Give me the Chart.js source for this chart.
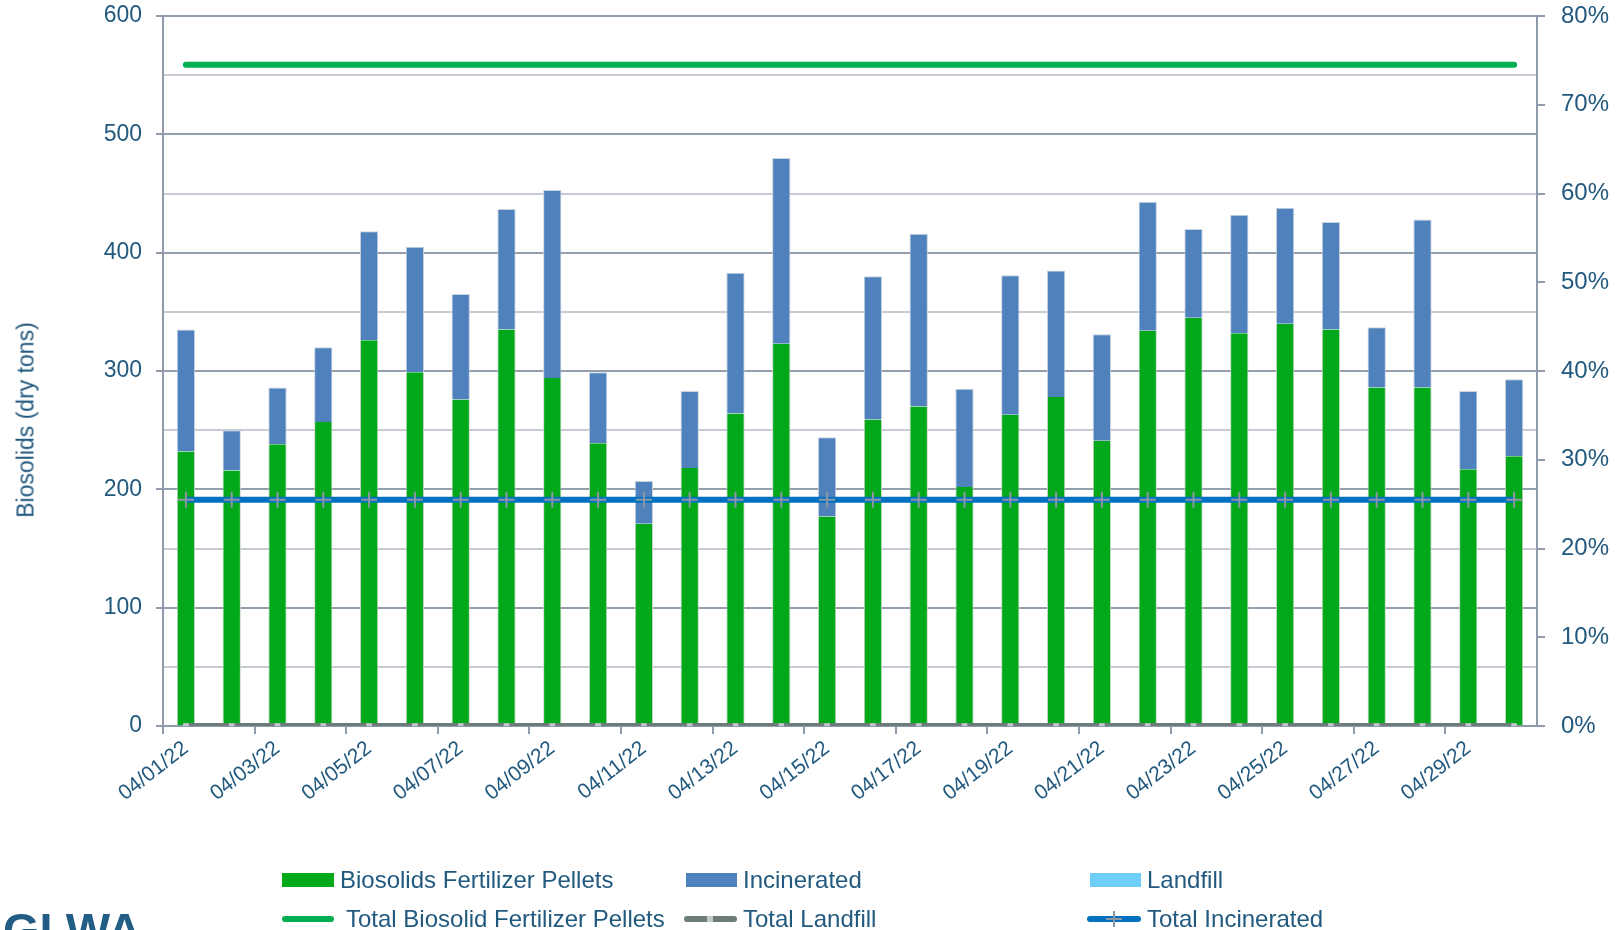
<!DOCTYPE html>
<html>
<head>
<meta charset="utf-8">
<script src="https://cdn.jsdelivr.net/npm/chart.js@4"></script>
<style>
  body { margin: 0; background: #fff; width: 1624px; height: 930px; overflow: hidden; position: relative; font-family: "Liberation Sans", Arial, sans-serif; }
  #chart_box { position: absolute; left: 0; top: 0; width: 1624px; height: 930px; }
  .leg { position: absolute; color: #22597f; font-size: 24px; line-height: 28px; white-space: nowrap; }
  .sw { position: absolute; }
  #y_title { position: absolute; left: 26px; top: 420px; transform: translate(-50%, -50%) rotate(-90deg); color: #22597f; font-size: 23px; white-space: nowrap; }
  #logo { position: absolute; left: 3px; top: 902px; font: bold 47px "Liberation Sans", Arial, sans-serif; color: #215d84; }
</style>
</head>
<body>
<div id="chart_box"><canvas id="biosolids_chart" width="1624" height="930"></canvas></div>
<div id="y_title">Biosolids (dry tons)</div>

<!-- legend -->
<div class="sw" style="left:282px;top:873px;width:52px;height:14px;background:#00a81a"></div>
<div class="leg" style="left:340px;top:866px">Biosolids Fertilizer Pellets</div>
<div class="sw" style="left:686px;top:873px;width:51px;height:14px;background:#4f81bd"></div>
<div class="leg" style="left:743px;top:866px">Incinerated</div>
<div class="sw" style="left:1090px;top:873px;width:51px;height:14px;background:#6dcff6"></div>
<div class="leg" style="left:1147px;top:866px">Landfill</div>

<div class="sw" style="left:282px;top:916px;width:52px;height:6px;border-radius:3px;background:#00b050"></div>
<div class="leg" style="left:346px;top:905px">Total Biosolid Fertilizer Pellets</div>
<div class="sw" style="left:684px;top:916px;width:53px;height:6px;border-radius:3px;background:#6d7b7b"></div>
<div class="sw" style="left:707px;top:916px;width:6px;height:6px;background:#c3c9c9"></div>
<div class="leg" style="left:743px;top:905px">Total Landfill</div>
<div class="sw" style="left:1087px;top:916px;width:54px;height:6px;border-radius:3px;background:#0070c0"></div>
<div class="sw" style="left:1113px;top:911px;width:2px;height:16px;background:#8c97a3"></div>
<div class="sw" style="left:1106px;top:918px;width:16px;height:2px;background:#8c97a3"></div>
<div class="leg" style="left:1147px;top:905px">Total Incinerated</div>

<div id="logo">GLWA</div>

<script>
const biosolids_chart = document.querySelector('#biosolids_chart')

const dates = ['04/01/22', '04/02/22', '04/03/22', '04/04/22', '04/05/22', '04/06/22', '04/07/22', '04/08/22', '04/09/22', '04/10/22',
    '04/11/22', '04/12/22', '04/13/22', '04/14/22', '04/15/22', '04/16/22', '04/17/22', '04/18/22', '04/19/22', '04/20/22',
    '04/21/22', '04/22/22', '04/23/22', '04/24/22', '04/25/22', '04/26/22', '04/27/22', '04/28/22', '04/29/22', '04/30/22']

// dry tons per day
const pellets = [232, 216, 238, 257, 326, 299, 276, 335, 294, 239,
    171, 218, 264, 323, 177, 259, 270, 202, 263, 278,
    241, 334, 345, 332, 340, 335, 286, 286, 217, 228]
const incinerated = [103, 34, 48, 63, 92, 106, 89, 102, 159, 60,
    36, 65, 119, 157, 67, 121, 146, 83, 118, 107,
    90, 109, 75, 100, 98, 91, 51, 142, 66, 65]
const landfill = [0, 0, 0, 0, 0, 0, 0, 0, 0, 0,
    0, 0, 0, 0, 0, 0, 0, 0, 0, 0,
    0, 0, 0, 0, 0, 0, 0, 0, 0, 0]

// month share in percent (right axis)
const pellets_pct = [74.5, 74.5, 74.5, 74.5, 74.5, 74.5, 74.5, 74.5, 74.5, 74.5,
    74.5, 74.5, 74.5, 74.5, 74.5, 74.5, 74.5, 74.5, 74.5, 74.5,
    74.5, 74.5, 74.5, 74.5, 74.5, 74.5, 74.5, 74.5, 74.5, 74.5]
const landfill_pct = [0, 0, 0, 0, 0, 0, 0, 0, 0, 0,
    0, 0, 0, 0, 0, 0, 0, 0, 0, 0,
    0, 0, 0, 0, 0, 0, 0, 0, 0, 0]
const incinerated_pct = [25.5, 25.5, 25.5, 25.5, 25.5, 25.5, 25.5, 25.5, 25.5, 25.5,
    25.5, 25.5, 25.5, 25.5, 25.5, 25.5, 25.5, 25.5, 25.5, 25.5,
    25.5, 25.5, 25.5, 25.5, 25.5, 25.5, 25.5, 25.5, 25.5, 25.5]

const tons_max = 600
const pct_max = 80

const text_color = '#22597f'
const axis_color = '#8f9aab'

// keep the plot box fixed, no extra room for overflowing labels
const fix_vertical = width => scale => {
    scale.width = width
    scale.paddingTop = 0
    scale.paddingBottom = 0
}

const data_biosolids = {
    labels: dates,
    datasets: [
        {
            type: 'line', label: 'Total Biosolid Fertilizer Pellets', data: pellets_pct, yAxisID: 'y1',
            borderColor: '#00b050', borderWidth: 6, borderCapStyle: 'round', pointRadius: 0, order: 1
        },
        {
            type: 'line', label: 'Total Landfill', data: landfill_pct, yAxisID: 'y1',
            borderColor: '#6d7b7b', borderWidth: 6, pointStyle: 'rect', pointRadius: 4,
            pointBackgroundColor: '#c3c9c9', pointBorderWidth: 0, order: 1
        },
        {
            type: 'line', label: 'Total Incinerated', data: incinerated_pct, yAxisID: 'y1',
            borderColor: '#0070c0', borderWidth: 6, pointStyle: 'cross', pointRadius: 8,
            pointBorderColor: '#8c97a3', pointBorderWidth: 2, order: 1
        },
        {
            label: 'Biosolids Fertilizer Pellets', data: pellets, backgroundColor: '#00a81a',
            borderColor: '#c9d6c9', borderWidth: { left: 1, right: 1, top: 0, bottom: 0 }, order: 2
        },
        {
            label: 'Incinerated', data: incinerated, backgroundColor: '#4f81bd',
            borderColor: '#c9d3df', borderWidth: { left: 1, right: 1, top: 1, bottom: 0 }, order: 2
        },
        {
            label: 'Landfill', data: landfill, backgroundColor: '#6dcff6', order: 2
        }
    ]
}

const options_biosolids = {
    responsive: false,
    animation: false,
    layout: { padding: { top: 16, left: 0, right: 0, bottom: 0 } },
    datasets: {
        bar: { barPercentage: 0.4, categoryPercentage: 1 }
    },
    plugins: {
        legend: false,
        tooltip: { enabled: false }
    },
    scales: {
        x: {
            stacked: true,
            afterFit: scale => {
                scale.height = 204
                scale.paddingLeft = 0
                scale.paddingRight = 0
            },
            grid: {
                offset: true,
                drawOnChartArea: false,
                tickLength: 8,
                lineWidth: 2,
                tickColor: ctx => ctx.index % 2 === 0 ? axis_color : 'transparent'
            },
            border: { color: axis_color, width: 2 },
            ticks: {
                autoSkip: false,
                minRotation: 38,
                maxRotation: 38,
                padding: 2,
                color: text_color,
                font: { family: 'Liberation Sans', size: 21 },
                callback: (value, index) => index % 2 === 0 ? dates[index] : ''
            }
        },
        y: {
            stacked: true,
            min: 0,
            max: tons_max,
            afterFit: fix_vertical(163),
            ticks: {
                stepSize: 50,
                padding: 14,
                color: text_color,
                font: { family: 'Liberation Sans', size: 23 },
                callback: value => value % 100 === 0 ? value : ''
            },
            grid: {
                lineWidth: 2,
                tickLength: 7,
                color: ctx => ctx.tick && ctx.tick.value % 100 === 0 ? '#949fae' : '#c6cbd5',
                tickColor: ctx => ctx.tick && ctx.tick.value % 100 === 0 ? axis_color : 'transparent'
            },
            border: { color: axis_color, width: 2 }
        },
        y1: {
            position: 'right',
            min: 0,
            max: pct_max,
            afterFit: fix_vertical(87),
            ticks: {
                stepSize: 10,
                padding: 16,
                color: text_color,
                font: { family: 'Liberation Sans', size: 24 },
                callback: value => value + '%'
            },
            grid: {
                drawOnChartArea: false,
                tickLength: 8,
                lineWidth: 2,
                tickColor: axis_color
            },
            border: { color: axis_color, width: 2 }
        }
    }
}

new Chart(biosolids_chart, {
    type: 'bar',
    data: data_biosolids,
    options: options_biosolids
})
</script>
</body>
</html>
